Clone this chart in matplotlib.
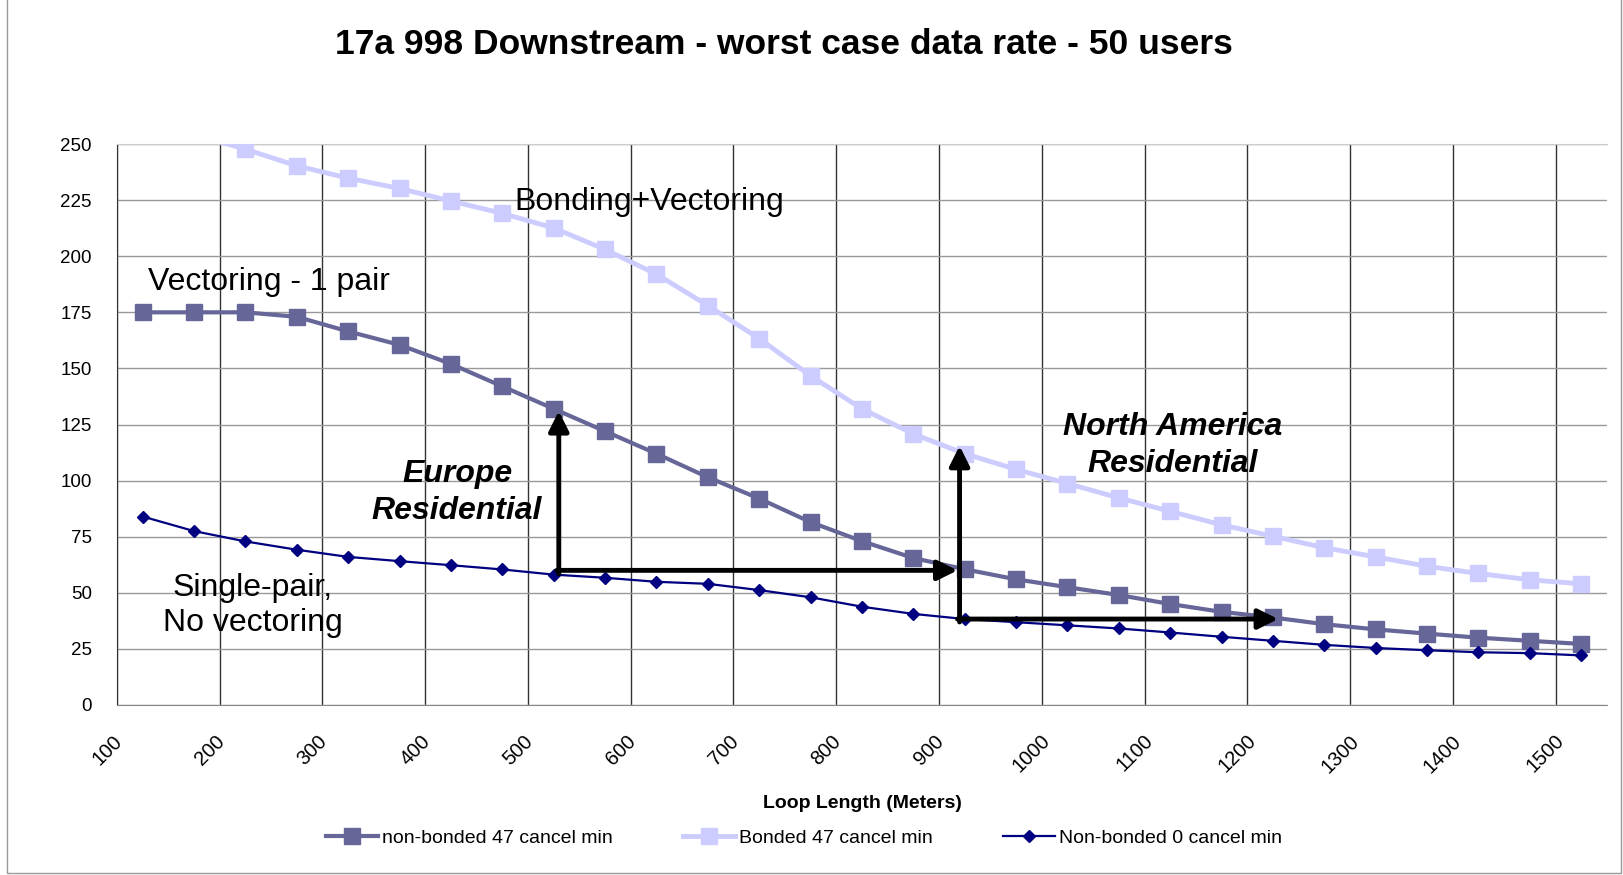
import matplotlib
matplotlib.use('Agg')
import matplotlib.pyplot as plt
import matplotlib.transforms as mtransforms
from matplotlib.patches import Rectangle

plt.rcParams['font.family'] = ['Liberation Sans', 'DejaVu Sans']

# Loop length (meters)
loop_length = [125, 175, 225, 275, 325, 375, 425, 475, 525, 575, 625, 675, 725,
               775, 825, 875, 925, 975, 1025, 1075, 1125, 1175, 1225, 1275,
               1325, 1375, 1425, 1475, 1525]

# Data rate series (Mbps)
non_bonded_47 = [175, 175, 175, 173, 166.5, 160.5, 152, 142, 132, 122, 112,
                 101.5, 92, 81.5, 73, 65.5, 60.5, 56, 52.5, 49, 45, 41.5, 39,
                 36, 33.7, 31.8, 30, 28.6, 27.2]
bonded_47 = [260, 254.3, 247.7, 240.3, 234.8, 230.2, 224.6, 219.1, 212.6, 203,
             192, 178, 163.3, 146.7, 132, 120.8, 112, 105, 98.7, 92.3, 86.3,
             80.3, 75.2, 70.1, 66, 61.8, 58.6, 55.8, 54]
non_bonded_0 = [84, 77.5, 72.9, 69.2, 66, 64.1, 62.3, 60.4, 58.1, 56.7, 54.9,
                54, 51.2, 48, 43.8, 40.6, 38.3, 36.9, 35.5, 34.1, 32.3, 30.4,
                28.6, 26.8, 25.4, 24.4, 23.5, 23.1, 22.1]

x_ticks = list(range(100, 1600, 100))
y_ticks = list(range(0, 275, 25))

fig = plt.figure(figsize=(16.24, 8.75), dpi=100)
ax = fig.add_axes([0.072, 0.1943, 0.9175, 0.6411])

ax.plot(loop_length, non_bonded_47, color='#666699', lw=3, marker='s',
        markersize=12, label='non-bonded 47 cancel min', zorder=4)
ax.plot(loop_length, bonded_47, color='#CCCCFF', lw=3.5, marker='s',
        markersize=12, label='Bonded 47 cancel min', zorder=3)
ax.plot(loop_length, non_bonded_0, color='#000080', lw=1.6, marker='D',
        markersize=6.5, label='Non-bonded 0 cancel min', zorder=5)

ax.set_xlim(100, 1550)
ax.set_ylim(0, 250)
ax.set_xticks(x_ticks)
ax.set_yticks(y_ticks)
ax.tick_params(axis='y', length=0, labelsize=13.5, pad=18)
ax.tick_params(axis='x', length=0, labelsize=14.5, pad=19, labelrotation=45)

# shift the rotated x labels a little to the left, like the original
shift = mtransforms.ScaledTranslation(-10 / 100, 0, fig.dpi_scale_trans)
for lbl in ax.get_xticklabels():
    lbl.set_transform(lbl.get_transform() + shift)

# grid: dark vertical lines, grey horizontal lines
ax.grid(axis='x', color='#333333', lw=1)
ax.grid(axis='y', color='#999999', lw=1)
ax.set_axisbelow(True)
ax.spines['right'].set_visible(False)
ax.spines['top'].set_color('#cccccc')
ax.spines['bottom'].set_color('#888888')
ax.spines['left'].set_color('#333333')

ax.set_xlabel('Loop Length (Meters)', fontsize=14, fontweight='bold')
ax.xaxis.label.set_va('center')
ax.xaxis.set_label_coords(0.5, -0.1765)

fig.suptitle('17a 998 Downstream - worst case data rate - 50 users',
             x=0.483, y=0.949, va='center', fontsize=25.5, fontweight='bold')

# annotations
ax.text(487, 224.2, 'Bonding+Vectoring', fontsize=23, ha='left', va='center')
ax.text(130, 188.6, 'Vectoring - 1 pair', fontsize=23, ha='left', va='center')
ax.text(232, 44.3, 'Single-pair,\nNo vectoring', fontsize=23,
        ha='center', va='center', linespacing=1.2)
ax.text(431, 94.6, 'Europe\nResidential', fontsize=23, ha='center',
        va='center', fontweight='bold', style='italic', linespacing=1.3)
ax.text(1127, 115.8, 'North America\nResidential', fontsize=23, ha='center',
        va='center', fontweight='bold', style='italic', linespacing=1.3)

arrow = dict(arrowstyle='-|>', lw=3.5, color='black', mutation_scale=30,
             shrinkA=0, shrinkB=0)
ax.annotate('', xy=(530, 131), xytext=(530, 58.5), arrowprops=arrow, zorder=6)
ax.annotate('', xy=(918, 60), xytext=(528, 60), arrowprops=arrow, zorder=6)
ax.annotate('', xy=(920, 115.5), xytext=(920, 37), arrowprops=arrow, zorder=6)
ax.annotate('', xy=(1230, 38.3), xytext=(918, 38.3), arrowprops=arrow, zorder=6)

fig.legend(loc='center', bbox_to_anchor=(0.495, 0.042), ncol=3, frameon=False,
           fontsize=14, numpoints=1, handlelength=2.7, columnspacing=3.6,
           handletextpad=0.2)

# outer chart border
fig.patches.append(Rectangle((0.0045, 0.002), 0.9935, 1.1, transform=fig.transFigure,
                             fill=False, edgecolor='#999999', lw=1))

fig.savefig('out.png', dpi=100)
